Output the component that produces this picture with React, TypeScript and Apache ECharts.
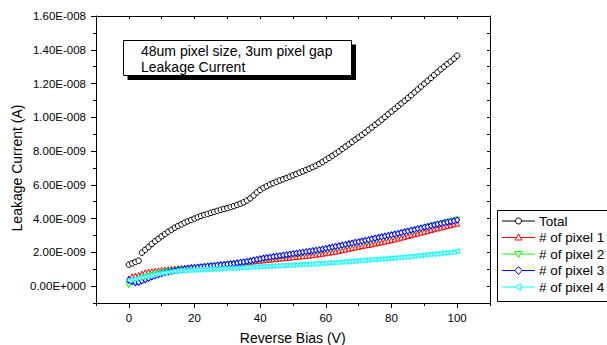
import React, { useEffect, useRef } from "react";
import * as echarts from "echarts";

// Reverse bias sweep, 0 V to 100 V in 1 V steps
const BIAS_V: number[] = Array.from({ length: 101 }, (_, i) => i);

// Leakage currents, in units of 1E-9 A
const TOTAL_NA = [
  1.27, 1.35, 1.43, 1.5, 1.98, 2.15, 2.32, 2.5, 2.66, 2.8,
  2.95, 3.08, 3.22, 3.34, 3.46, 3.56, 3.66, 3.76, 3.84, 3.92,
  4.0, 4.08, 4.16, 4.22, 4.28, 4.34, 4.4, 4.46, 4.52, 4.57,
  4.62, 4.68, 4.74, 4.81, 4.88, 4.97, 5.07, 5.2, 5.37, 5.55,
  5.7, 5.82, 5.92, 6.02, 6.1, 6.18, 6.26, 6.33, 6.4, 6.48,
  6.56, 6.64, 6.72, 6.8, 6.88, 6.96, 7.05, 7.14, 7.24, 7.36,
  7.48, 7.6, 7.72, 7.85, 7.98, 8.12, 8.26, 8.4, 8.54, 8.68,
  8.82, 8.96, 9.1, 9.25, 9.4, 9.55, 9.7, 9.86, 10.02, 10.18,
  10.34, 10.5, 10.66, 10.82, 10.98, 11.14, 11.31, 11.48, 11.65, 11.82,
  11.99, 12.16, 12.33, 12.5, 12.67, 12.84, 13.0, 13.15, 13.3, 13.47,
  13.65,
];

const PIXEL1_NA = [
  0.45, 0.58, 0.62, 0.66, 0.74, 0.82, 0.86, 0.88, 0.91, 0.93,
  0.96, 0.98, 1.0, 1.02, 1.04, 1.06, 1.08, 1.1, 1.11, 1.12,
  1.13, 1.14, 1.16, 1.17, 1.19, 1.2, 1.22, 1.24, 1.26, 1.28,
  1.3, 1.32, 1.34, 1.36, 1.38, 1.4, 1.42, 1.44, 1.46, 1.48,
  1.51, 1.53, 1.55, 1.57, 1.59, 1.61, 1.63, 1.65, 1.67, 1.69,
  1.71, 1.73, 1.75, 1.77, 1.79, 1.81, 1.83, 1.86, 1.89, 1.92,
  1.95, 1.98, 2.01, 2.05, 2.09, 2.13, 2.17, 2.21, 2.25, 2.29,
  2.33, 2.37, 2.41, 2.44, 2.48, 2.52, 2.56, 2.6, 2.64, 2.68,
  2.72, 2.77, 2.82, 2.87, 2.92, 2.97, 3.02, 3.07, 3.12, 3.17,
  3.22, 3.27, 3.32, 3.37, 3.42, 3.47, 3.52, 3.57, 3.62, 3.66,
  3.7,
];

const PIXEL2_NA = [
  0.05, 0.2, 0.3, 0.38, 0.46, 0.53, 0.59, 0.65, 0.7, 0.75,
  0.79, 0.83, 0.87, 0.9, 0.93, 0.96, 0.99, 1.01, 1.04, 1.06,
  1.08, 1.1, 1.12, 1.14, 1.16, 1.18, 1.2, 1.22, 1.24, 1.26,
  1.28, 1.3, 1.32, 1.34, 1.37, 1.4, 1.43, 1.46, 1.49, 1.52,
  1.56, 1.59, 1.62, 1.65, 1.68, 1.71, 1.74, 1.77, 1.8, 1.83,
  1.86, 1.88, 1.91, 1.94, 1.97, 2.0, 2.03, 2.06, 2.09, 2.12,
  2.16, 2.2, 2.24, 2.28, 2.32, 2.36, 2.4, 2.44, 2.48, 2.52,
  2.56, 2.6, 2.64, 2.68, 2.73, 2.77, 2.81, 2.86, 2.9, 2.94,
  2.98, 3.03, 3.07, 3.12, 3.17, 3.21, 3.26, 3.31, 3.36, 3.41,
  3.46, 3.51, 3.56, 3.61, 3.66, 3.7, 3.75, 3.8, 3.85, 3.89,
  3.94,
];

const PIXEL3_NA = [
  0.35, 0.28, 0.2, 0.22, 0.3, 0.38, 0.46, 0.54, 0.62, 0.68,
  0.74, 0.79, 0.84, 0.88, 0.92, 0.96, 0.99, 1.02, 1.05, 1.08,
  1.1, 1.12, 1.14, 1.16, 1.18, 1.2, 1.22, 1.24, 1.26, 1.28,
  1.3, 1.32, 1.34, 1.37, 1.4, 1.43, 1.46, 1.5, 1.54, 1.58,
  1.62, 1.66, 1.69, 1.72, 1.75, 1.78, 1.8, 1.83, 1.86, 1.89,
  1.92, 1.95, 1.98, 2.01, 2.04, 2.07, 2.1, 2.13, 2.16, 2.19,
  2.23, 2.27, 2.31, 2.35, 2.39, 2.43, 2.47, 2.51, 2.55, 2.59,
  2.63, 2.67, 2.71, 2.75, 2.8, 2.84, 2.88, 2.92, 2.96, 3.0,
  3.04, 3.08, 3.12, 3.17, 3.22, 3.26, 3.31, 3.35, 3.4, 3.44,
  3.49, 3.53, 3.58, 3.62, 3.67, 3.71, 3.75, 3.79, 3.83, 3.87,
  3.92,
];

const PIXEL4_NA = [
  0.35, 0.38, 0.42, 0.47, 0.52, 0.57, 0.62, 0.66, 0.7, 0.74,
  0.77, 0.8, 0.83, 0.85, 0.87, 0.89, 0.91, 0.92, 0.93, 0.94,
  0.95, 0.96, 0.97, 0.98, 0.99, 1.0, 1.01, 1.02, 1.03, 1.04,
  1.05, 1.06, 1.07, 1.08, 1.09, 1.1, 1.11, 1.12, 1.13, 1.14,
  1.15, 1.16, 1.17, 1.18, 1.19, 1.2, 1.21, 1.22, 1.23, 1.24,
  1.25, 1.26, 1.27, 1.28, 1.29, 1.3, 1.31, 1.32, 1.34, 1.35,
  1.36, 1.38, 1.39, 1.4, 1.42, 1.43, 1.44, 1.46, 1.47, 1.49,
  1.5, 1.52, 1.53, 1.55, 1.56, 1.58, 1.59, 1.61, 1.62, 1.64,
  1.65, 1.67, 1.69, 1.7, 1.72, 1.74, 1.76, 1.78, 1.8, 1.82,
  1.84, 1.86, 1.88, 1.9, 1.92, 1.94, 1.96, 1.98, 2.0, 2.02,
  2.08,
];

const SERIES_NAMES = ["Total", "# of pixel 1", "# of pixel 2", "# of pixel 3", "# of pixel 4"];
const SERIES_COLORS = ["#000000", "#ff0000", "#00ff00", "#0000ff", "#00ffff"];

const TITLE_LINES = ["48um pixel size, 3um pixel gap", "Leakage Current"];
const X_TITLE = "Reverse Bias (V)";
const Y_TITLE = "Leakage Current (A)";

const NANO = 1e-9;
const FONT = "'Liberation Sans', Arial, Helvetica, sans-serif";

// Origin-style scientific tick label, e.g. 1.60E-008
function sciLabel(v: number): string {
  if (Math.abs(v) < 1e-20) return "0.00E+000";
  const [m, e] = v.toExponential(2).split("e");
  const exp = parseInt(e, 10);
  const sign = exp < 0 ? "-" : "+";
  return `${m}E${sign}${String(Math.abs(exp)).padStart(3, "0")}`;
}

// Plot frame geometry
const G_LEFT = 96;
const G_TOP = 16;
const G_W = 394;
const G_H = 287;
// Label grid covers x 0..100 and y 0..1.6E-8 inside the frame
const L_LEFT = G_LEFT + (G_W * 10) / 120;
const L_W = (G_W * 100) / 120;
const L_H = (G_H * 16) / 17;

export default function App() {
  const ref = useRef<HTMLDivElement>(null);

  useEffect(() => {
    if (!ref.current) return;
    const chart = echarts.init(ref.current, undefined, { renderer: "svg" });

    const seriesData = [TOTAL_NA, PIXEL1_NA, PIXEL2_NA, PIXEL3_NA, PIXEL4_NA];
    const symbols: any[] = [
      { symbol: "circle", size: 5.5, rotate: 0 },
      { symbol: "triangle", size: 5, rotate: 0 },
      { symbol: "triangle", size: 5, rotate: 180 },
      { symbol: "diamond", size: [5, 6], rotate: 0 },
      { symbol: "triangle", size: 5, rotate: 90 },
    ];

    const series = seriesData.map((arr, k) => ({
      type: "scatter",
      name: SERIES_NAMES[k],
      xAxisIndex: 0,
      yAxisIndex: 0,
      symbol: symbols[k].symbol,
      symbolSize: symbols[k].size,
      symbolRotate: symbols[k].rotate,
      itemStyle: { color: "#ffffff", borderColor: SERIES_COLORS[k], borderWidth: 1, opacity: 1 },
      emphasis: { disabled: true },
      data: BIAS_V.map((v, i) => [v, arr[i] * NANO]),
      z: 2 + k,
    }));

    // Legend drawn as graphics: line sample, marker, label
    const legendTop = 211;
    const rowY = [221, 237.5, 254, 270.5, 287];
    const lx1 = 502;
    const lx2 = 535;
    const mx = 518.5;
    const markerShape = (k: number, y: number, color: string): any => {
      const style = { fill: "#ffffff", stroke: color, lineWidth: 1 };
      if (k === 0) return { type: "circle", shape: { cx: mx, cy: y, r: 3 }, style };
      if (k === 1)
        return { type: "polygon", shape: { points: [[mx, y - 3.5], [mx + 3.5, y + 2.5], [mx - 3.5, y + 2.5]] }, style };
      if (k === 2)
        return { type: "polygon", shape: { points: [[mx, y + 3.5], [mx + 3.5, y - 2.5], [mx - 3.5, y - 2.5]] }, style };
      if (k === 3)
        return { type: "polygon", shape: { points: [[mx, y - 4], [mx + 3.5, y], [mx, y + 4], [mx - 3.5, y]] }, style };
      return { type: "polygon", shape: { points: [[mx - 3.5, y], [mx + 2.5, y - 3.5], [mx + 2.5, y + 3.5]] }, style };
    };

    const legendEls: any[] = [
      { type: "rect", shape: { x: 497.5, y: legendTop - 0.5, width: 130, height: 91 }, style: { fill: "#ffffff", stroke: "#000", lineWidth: 1 }, z: 10 },
    ];
    SERIES_NAMES.forEach((name, k) => {
      const y = rowY[k];
      legendEls.push(
        { type: "line", shape: { x1: lx1, y1: y, x2: lx2, y2: y }, style: { stroke: SERIES_COLORS[k], lineWidth: 1 }, z: 11 },
        { ...markerShape(k, y, SERIES_COLORS[k]), z: 12 },
        { type: "text", x: 539, y, style: { text: name, fill: "#000", font: `13.5px ${FONT}`, textVerticalAlign: "middle" }, z: 12 }
      );
    });

    const option: any = {
      animation: false,
      backgroundColor: "#ffffff",
      textStyle: { fontFamily: FONT },
      grid: [
        { left: G_LEFT, top: G_TOP, width: G_W, height: G_H, containLabel: false },
        { left: L_LEFT, top: G_TOP, width: L_W, height: L_H, containLabel: false },
      ],
      xAxis: [
        {
          gridIndex: 0, type: "value", min: -10, max: 110, interval: 10, position: "bottom",
          axisLine: { show: true, onZero: false, lineStyle: { color: "#000", width: 1 } },
          axisTick: { show: true, inside: false, length: 3, lineStyle: { color: "#000" } },
          axisLabel: { show: false }, splitLine: { show: false },
        },
        {
          gridIndex: 0, type: "value", min: -10, max: 110, interval: 10, position: "top",
          axisLine: { show: true, onZero: false, lineStyle: { color: "#000", width: 1 } },
          axisTick: { show: true, inside: true, length: 3, lineStyle: { color: "#000" } },
          axisLabel: { show: false }, splitLine: { show: false },
        },
        {
          gridIndex: 1, type: "value", min: 0, max: 100, interval: 20, position: "bottom",
          offset: G_H - L_H,
          axisLine: { show: false, onZero: false },
          axisTick: { show: true, inside: false, length: 5, lineStyle: { color: "#000" } },
          axisLabel: { show: true, color: "#000", fontSize: 11.5, margin: 9, fontFamily: FONT },
          splitLine: { show: false },
        },
      ],
      yAxis: [
        {
          gridIndex: 0, type: "value", min: -1 * NANO, max: 16 * NANO, interval: 1 * NANO, position: "left",
          axisLine: { show: true, onZero: false, lineStyle: { color: "#000", width: 1 } },
          axisTick: { show: true, inside: false, length: 3, lineStyle: { color: "#000" } },
          axisLabel: { show: false }, splitLine: { show: false },
        },
        {
          gridIndex: 0, type: "value", min: -1 * NANO, max: 16 * NANO, interval: 1 * NANO, position: "right",
          axisLine: { show: true, onZero: false, lineStyle: { color: "#000", width: 1 } },
          axisTick: { show: true, inside: true, length: 3, lineStyle: { color: "#000" } },
          axisLabel: { show: false }, splitLine: { show: false },
        },
        {
          gridIndex: 1, type: "value", min: 0, max: 16 * NANO, interval: 2 * NANO, position: "left",
          offset: L_LEFT - G_LEFT,
          axisLine: { show: false, onZero: false },
          axisTick: { show: true, inside: false, length: 5, lineStyle: { color: "#000" } },
          axisLabel: { show: true, color: "#000", fontSize: 11.5, margin: 10, fontFamily: FONT, formatter: sciLabel },
          splitLine: { show: false },
        },
      ],
      graphic: [
        // annotation box with drop shadow
        { type: "rect", shape: { x: 127.5, y: 44.5, width: 228.5, height: 35.5 }, style: { fill: "#000" }, z: 10 },
        { type: "rect", shape: { x: 123.5, y: 40.5, width: 228, height: 35 }, style: { fill: "#ffffff", stroke: "#000", lineWidth: 1 }, z: 11 },
        { type: "text", x: 141, y: 50.5, style: { text: TITLE_LINES[0], fill: "#000", font: `14px ${FONT}`, textVerticalAlign: "middle" }, z: 12 },
        { type: "text", x: 141, y: 66.8, style: { text: TITLE_LINES[1], fill: "#000", font: `14px ${FONT}`, textVerticalAlign: "middle" }, z: 12 },
        // axis titles
        { type: "text", x: 292.7, y: 338, style: { text: X_TITLE, fill: "#000", font: `14px ${FONT}`, textAlign: "center", textVerticalAlign: "middle" }, z: 12 },
        { type: "text", x: 17, y: 168, rotation: Math.PI / 2, style: { text: Y_TITLE, fill: "#000", font: `14px ${FONT}`, textAlign: "center", textVerticalAlign: "middle" }, z: 12 },
        ...legendEls,
      ],
      series,
    };

    chart.setOption(option);
    return () => chart.dispose();
  }, []);

  return (
    <div
      ref={ref}
      style={{ position: "fixed", left: 0, top: 0, width: 607, height: 345, background: "#ffffff" }}
    />
  );
}
